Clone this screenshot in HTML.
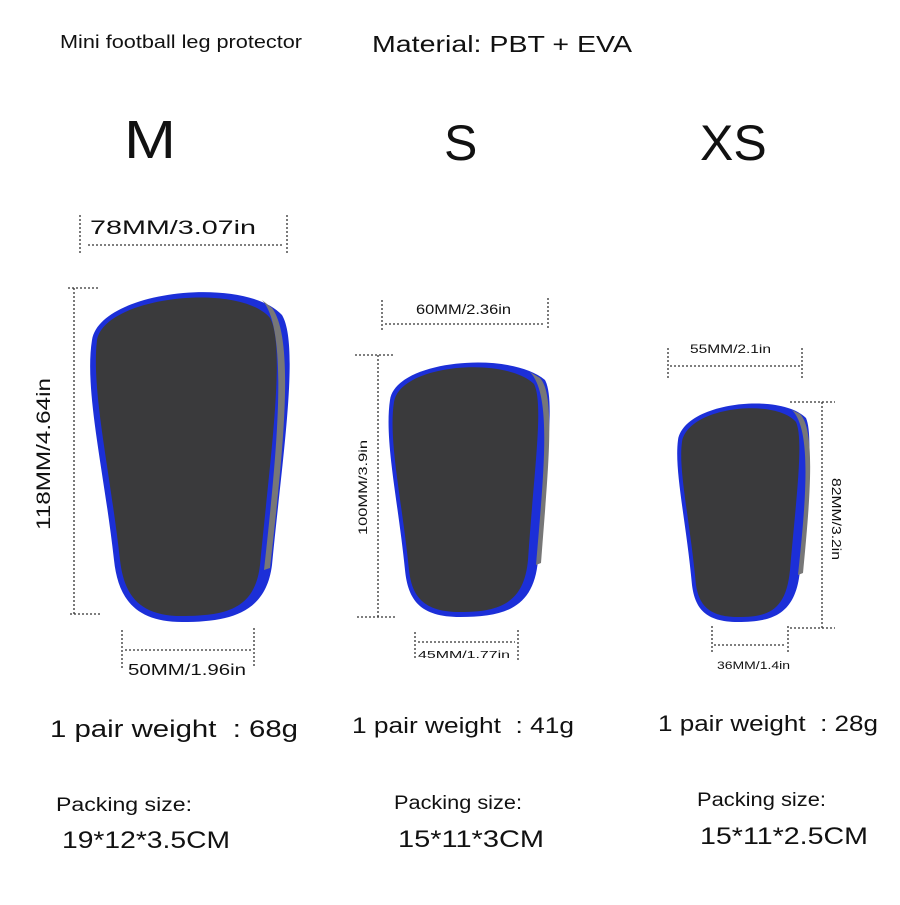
<!DOCTYPE html>
<html><head><meta charset="utf-8"><style>
html,body{margin:0;padding:0;background:#fff;}
body{width:900px;height:900px;overflow:hidden;}
svg text{font-family:"Liberation Sans",sans-serif;fill:#111;}
</style></head><body>
<svg width="900" height="900" viewBox="0 0 900 900" xmlns="http://www.w3.org/2000/svg">
<rect width="900" height="900" fill="#fff"/>
<text x="60" y="48" font-size="18" textLength="242" lengthAdjust="spacingAndGlyphs">Mini football leg protector</text>
<text x="372" y="52" font-size="23" textLength="260" lengthAdjust="spacingAndGlyphs">Material: PBT + EVA</text>
<text x="124" y="158" font-size="54" textLength="52" lengthAdjust="spacingAndGlyphs">M</text>
<text x="444" y="160" font-size="50">S</text>
<text x="700" y="160" font-size="50">XS</text>

<g stroke="#333" stroke-width="1.3" stroke-dasharray="2,2" fill="none">
<line x1="80" y1="215" x2="80" y2="255"/><line x1="287" y1="215" x2="287" y2="255"/>
<line x1="88" y1="245" x2="282" y2="245"/>
<line x1="68" y1="288" x2="98" y2="288"/><line x1="70" y1="614" x2="100" y2="614"/>
<line x1="74" y1="288" x2="74" y2="614"/>
<line x1="122" y1="630" x2="122" y2="670"/><line x1="254" y1="628" x2="254" y2="668"/>
<line x1="125" y1="650" x2="252" y2="650"/>
<line x1="382" y1="300" x2="382" y2="332"/><line x1="548" y1="298" x2="548" y2="330"/>
<line x1="385" y1="324" x2="545" y2="324"/>
<line x1="355" y1="355" x2="395" y2="355"/><line x1="357" y1="617" x2="395" y2="617"/>
<line x1="378" y1="355" x2="378" y2="617"/>
<line x1="415" y1="632" x2="415" y2="660"/><line x1="518" y1="630" x2="518" y2="660"/>
<line x1="418" y1="642" x2="515" y2="642"/>
<line x1="668" y1="348" x2="668" y2="378"/><line x1="802" y1="348" x2="802" y2="378"/>
<line x1="670" y1="366" x2="800" y2="366"/>
<line x1="790" y1="402" x2="835" y2="402"/><line x1="790" y1="628" x2="835" y2="628"/>
<line x1="822" y1="402" x2="822" y2="628"/>
<line x1="712" y1="626" x2="712" y2="652"/><line x1="788" y1="626" x2="788" y2="652"/>
<line x1="714" y1="645" x2="786" y2="645"/>
</g>

<!-- M -->
<path d="M92,340 C100,290 245,275 282,315 C300,345 282,460 272,565 C266,612 232,622 182,622 C135,622 118,598 114,560 C104,470 84,390 92,340 Z" fill="#1c2fd8"/>
<path d="M97,340 C105,296 240,282 270,318 C286,346 270,460 260,565 C255,608 228,616 182,616 C138,616 124,594 120,560 C110,470 91,390 97,340 Z" fill="#3a3a3c"/>
<path d="M262,300 C290,330 276,460 264,570 L270,568 C282,460 296,340 272,308 Z" fill="#777"/>
<!-- S -->
<path d="M390,400 C395,360 510,350 545,380 C556,400 545,470 538,560 C534,608 505,617 460,617 C420,617 408,600 405,570 C398,500 384,440 390,400 Z" fill="#1c2fd8"/>
<path d="M394,402 C400,364 505,356 534,384 C544,404 534,470 528,560 C524,603 500,612 460,612 C424,612 412,597 409,570 C402,500 388,440 394,402 Z" fill="#3a3a3c"/>
<path d="M530,372 C552,395 544,470 536,565 L541,563 C548,470 556,395 540,378 Z" fill="#777"/>
<!-- XS -->
<path d="M678,440 C684,402 780,392 806,418 C814,436 806,500 800,570 C796,615 772,622 738,622 C705,622 695,608 692,585 C686,520 674,470 678,440 Z" fill="#1c2fd8"/>
<path d="M682,442 C688,406 776,398 796,422 C804,440 796,500 790,570 C786,611 768,617 738,617 C708,617 699,604 696,585 C690,520 678,470 682,442 Z" fill="#3a3a3c"/>
<path d="M792,410 C812,430 806,500 798,575 L803,573 C810,500 816,430 800,414 Z" fill="#777"/>

<text x="90" y="234" font-size="19" textLength="166" lengthAdjust="spacingAndGlyphs">78MM/3.07in</text>
<text x="50" y="530" font-size="19" textLength="152" lengthAdjust="spacingAndGlyphs" transform="rotate(-90 50 530)">118MM/4.64in</text>
<text x="128" y="675" font-size="16" textLength="118" lengthAdjust="spacingAndGlyphs">50MM/1.96in</text>
<text x="416" y="314" font-size="14" textLength="95" lengthAdjust="spacingAndGlyphs">60MM/2.36in</text>
<text x="367" y="535" font-size="12" textLength="95" lengthAdjust="spacingAndGlyphs" transform="rotate(-90 367 535)">100MM/3.9in</text>
<text x="418" y="658" font-size="10" textLength="92" lengthAdjust="spacingAndGlyphs">45MM/1.77in</text>
<text x="690" y="353" font-size="12" textLength="81" lengthAdjust="spacingAndGlyphs">55MM/2.1in</text>
<text x="832" y="478" font-size="13" textLength="82" lengthAdjust="spacingAndGlyphs" transform="rotate(90 832 478)">82MM/3.2in</text>
<text x="717" y="669" font-size="11" textLength="73" lengthAdjust="spacingAndGlyphs">36MM/1.4in</text>

<text x="50" y="737" font-size="24" textLength="248" lengthAdjust="spacingAndGlyphs">1 pair weight&#160;&#160;: 68g</text>
<text x="352" y="733" font-size="22" textLength="222" lengthAdjust="spacingAndGlyphs">1 pair weight&#160;&#160;: 41g</text>
<text x="658" y="731" font-size="22" textLength="220" lengthAdjust="spacingAndGlyphs">1 pair weight&#160;&#160;: 28g</text>
<text x="56" y="811" font-size="19" textLength="136" lengthAdjust="spacingAndGlyphs">Packing size:</text>
<text x="62" y="848" font-size="24" textLength="168" lengthAdjust="spacingAndGlyphs">19*12*3.5CM</text>
<text x="394" y="809" font-size="19" textLength="128" lengthAdjust="spacingAndGlyphs">Packing size:</text>
<text x="398" y="847" font-size="24" textLength="146" lengthAdjust="spacingAndGlyphs">15*11*3CM</text>
<text x="697" y="806" font-size="19" textLength="129" lengthAdjust="spacingAndGlyphs">Packing size:</text>
<text x="700" y="844" font-size="24" textLength="168" lengthAdjust="spacingAndGlyphs">15*11*2.5CM</text>
</svg>
</body></html>
